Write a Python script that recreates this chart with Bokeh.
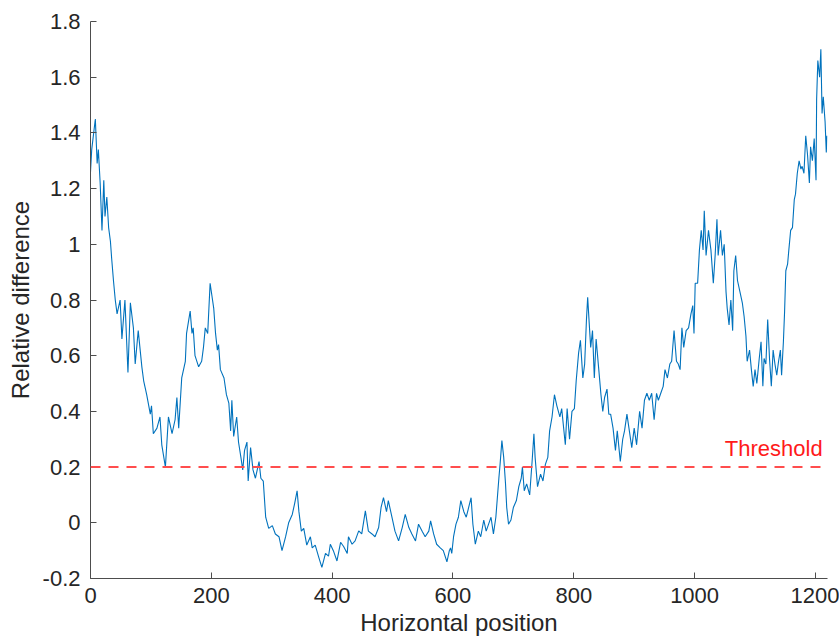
from bokeh.plotting import figure
from bokeh.models import ColumnDataSource, Range1d, FixedTicker, CustomJSTickFormatter, Span
from bokeh.core.properties import value
from bokeh.embed import file_html
from bokeh.resources import INLINE

# ---------------- data ----------------
positions = [
    0, 2, 8, 11, 13, 16, 19, 22, 24, 27, 30, 33, 35, 38, 41, 44, 49, 52, 57, 62,
    66, 71, 74, 79, 85, 88, 93, 99, 101, 104, 110, 115, 118, 124, 129, 135, 140, 143, 146, 151,
    157, 159, 165, 168, 170, 173, 179, 184, 187, 190, 194, 198,
    204, 207, 210, 212, 215, 221, 225, 229, 232, 234, 237, 242, 245, 249, 252, 255, 259, 261,
    265, 269, 273, 279, 282, 286, 290, 295, 301, 306, 312, 317, 323, 328, 334, 338, 342, 345,
    349, 353, 358, 364, 367, 372, 378, 383, 389, 394,
    397, 402, 408, 414, 419, 425, 427, 433, 438, 444, 449, 455, 460, 466, 471, 477, 481, 485,
    490, 493, 499, 504, 510, 516, 521, 527, 532, 538, 543, 549, 554, 560, 563, 568, 573, 579,
    584, 590, 594,
    596, 598, 601, 605, 609, 613, 618, 622, 626, 630, 633, 637, 642, 646, 651, 655, 659, 663,
    667, 671, 676, 678, 681, 684, 687, 689, 692, 696, 700, 705, 709, 713, 715, 718, 722, 727,
    731, 734, 736, 740, 745, 749, 753, 757, 760, 764, 768, 772, 777, 780, 786, 789, 793, 797,
    801, 804, 808, 811, 815, 818,
    821, 823, 826, 828, 831, 834, 837, 841, 845, 848, 851, 855, 858, 861, 865, 869, 872, 877,
    881, 884, 888, 892, 896, 900, 904, 909, 913, 917, 921, 925, 929, 933, 937, 940, 944, 948,
    951, 955, 959, 962, 966, 970, 973, 976, 979, 982, 986, 990, 994, 997, 999,
    1001, 1005, 1008, 1011, 1014, 1016, 1019, 1023, 1027, 1031, 1034, 1037, 1039, 1043, 1046,
    1049, 1052, 1054, 1057, 1060, 1063, 1065, 1068, 1071, 1075, 1079, 1082, 1085, 1087, 1091,
    1094, 1097, 1100, 1103, 1107, 1110, 1113, 1115, 1118, 1121, 1124, 1127, 1130, 1133, 1136,
    1139, 1142, 1144, 1147, 1149, 1151, 1154, 1156, 1159, 1162, 1165, 1167, 1170, 1173, 1176,
    1178, 1181, 1184, 1187, 1190, 1192, 1195, 1198, 1201, 1202, 1204, 1207, 1209, 1211, 1213,
    1216, 1218, 1219,
]

rel_diff = [
    1.26, 1.34, 1.45, 1.29, 1.34, 1.22, 1.05, 1.23, 1.10, 1.17, 1.06, 1.01, 0.95, 0.87, 0.80, 0.75, 0.80, 0.66, 0.80, 0.54,
    0.79, 0.70, 0.57, 0.69, 0.56, 0.51, 0.46, 0.39, 0.42, 0.32, 0.34, 0.38, 0.28, 0.20, 0.38, 0.32, 0.37, 0.45, 0.34, 0.52,
    0.58, 0.68, 0.76, 0.68, 0.70, 0.60, 0.56, 0.58, 0.63, 0.70, 0.68, 0.86,
    0.77, 0.68, 0.62, 0.64, 0.55, 0.52, 0.46, 0.43, 0.33, 0.44, 0.31, 0.38, 0.29, 0.235, 0.19, 0.26, 0.29, 0.15,
    0.27, 0.19, 0.16, 0.22, 0.16, 0.15, 0.02, -0.02, -0.01, -0.04, -0.05, -0.10, -0.05, 0.0, 0.03, 0.07, 0.115, 0.04,
    -0.03, -0.02, -0.08, -0.05, -0.09, -0.08, -0.125, -0.16, -0.11, -0.12,
    -0.077, -0.10, -0.137, -0.07, -0.085, -0.11, -0.05, -0.077, -0.065, -0.029, -0.04, 0.043, -0.03, -0.04, -0.05, -0.017, 0.055, 0.09,
    0.04, 0.08, 0.02, -0.03, -0.065, -0.017, 0.03, -0.017, -0.04, -0.065, -0.005, -0.03, -0.05, -0.03, 0.007, -0.04, -0.077, -0.09,
    -0.10, -0.14, -0.10,
    -0.09, -0.11, -0.05, -0.005, 0.02, 0.08, 0.04, 0.02, 0.055, 0.09, -0.005, -0.077, -0.03, -0.05, 0.01, -0.03, -0.005, 0.02,
    -0.04, 0.02, 0.16, 0.21, 0.295, 0.235, 0.14, 0.055, -0.005, 0.01, 0.055, 0.08, 0.13, 0.16, 0.20, 0.115, 0.14, 0.10,
    0.22, 0.32, 0.235, 0.13, 0.175, 0.15, 0.21, 0.235, 0.33, 0.38, 0.46, 0.42, 0.38, 0.41, 0.28, 0.41, 0.30, 0.40,
    0.41, 0.51, 0.61, 0.655, 0.52, 0.57,
    0.73, 0.81, 0.70, 0.63, 0.69, 0.52, 0.66, 0.56, 0.46, 0.40, 0.45, 0.48, 0.39, 0.39, 0.34, 0.26, 0.33, 0.22,
    0.30, 0.33, 0.39, 0.33, 0.27, 0.34, 0.28, 0.40, 0.34, 0.44, 0.465, 0.44, 0.465, 0.37, 0.465, 0.44, 0.465, 0.49,
    0.55, 0.52, 0.57, 0.58, 0.69, 0.58, 0.57, 0.55, 0.70, 0.63, 0.69, 0.70, 0.75, 0.78, 0.68,
    0.86, 0.86, 0.98, 1.05, 0.98, 1.12, 0.96, 1.05, 0.98, 0.86, 0.96, 1.09, 0.96, 1.05, 0.96,
    1.00, 0.83, 0.77, 0.71, 0.80, 0.69, 0.905, 0.96, 0.87, 0.83, 0.79, 0.74, 0.67, 0.58, 0.62,
    0.55, 0.49, 0.55, 0.50, 0.59, 0.65, 0.49, 0.59, 0.57, 0.73, 0.59, 0.49, 0.62, 0.57, 0.53,
    0.58, 0.62, 0.53, 0.65, 0.76, 0.905, 0.93, 0.98, 1.05, 1.06, 1.16, 1.18, 1.255, 1.30, 1.27,
    1.28, 1.255, 1.39, 1.32, 1.22, 1.35, 1.30, 1.38, 1.23, 1.52, 1.66, 1.60, 1.70, 1.47, 1.53,
    1.44, 1.33, 1.39,
]

threshold = 0.2
threshold_label = "Threshold"
x_ticks = [0, 200, 400, 600, 800, 1000, 1200]
y_ticks = [-0.2, 0.0, 0.2, 0.4, 0.6, 0.8, 1.0, 1.2, 1.4, 1.6, 1.8]
x_title = "Horizontal position"
y_title = "Relative difference"

# ---------------- figure ----------------
FONT = "Liberation Sans"
TEXT_COLOR = "#262626"
AXIS_COLOR = "#4d4d4d"

p = figure(
    width=839, height=642,
    output_backend="svg", toolbar_location=None,
    x_range=Range1d(0, 1220), y_range=Range1d(-0.2, 1.8),
    min_border_left=90, min_border_right=12, min_border_top=21, min_border_bottom=64,
)
p.background_fill_color = "white"
p.border_fill_color = "white"
p.outline_line_color = None
p.grid.visible = False

src = ColumnDataSource(dict(x=positions, y=rel_diff))
p.line("x", "y", source=src, line_color="#0072BD", line_width=1.1)

p.add_layout(Span(location=threshold, dimension="width", line_color="#ff4d4d",
                  line_width=2, line_dash="10 8"))

p.text(x=[1212], y=[threshold], text=[threshold_label], text_color="#ff1a1a",
       text_font=value(FONT), text_font_size="22px", text_align="right",
       text_baseline="alphabetic", y_offset=-19)

for ax, ticks in ((p.xaxis[0], x_ticks), (p.yaxis[0], y_ticks)):
    ax.ticker = FixedTicker(ticks=ticks)
    ax.minor_tick_line_color = None
    ax.major_tick_in = 6
    ax.major_tick_out = 0
    ax.axis_line_color = AXIS_COLOR
    ax.major_tick_line_color = AXIS_COLOR
    ax.major_label_text_font = FONT
    ax.major_label_text_font_size = "22px"
    ax.major_label_text_color = TEXT_COLOR
    ax.axis_label_text_font = FONT
    ax.axis_label_text_font_size = "24px"
    ax.axis_label_text_font_style = "normal"
    ax.axis_label_text_color = TEXT_COLOR
    ax.formatter = CustomJSTickFormatter(code="return Number(tick.toFixed(1)).toString();")

p.xaxis.axis_label = x_title
p.yaxis.axis_label = y_title
p.xaxis.major_label_standoff = 9
p.xaxis.axis_label_standoff = 3
p.yaxis.major_label_standoff = 10
p.yaxis.axis_label_standoff = 6

open("out.html", "w").write(file_html(p, INLINE))
